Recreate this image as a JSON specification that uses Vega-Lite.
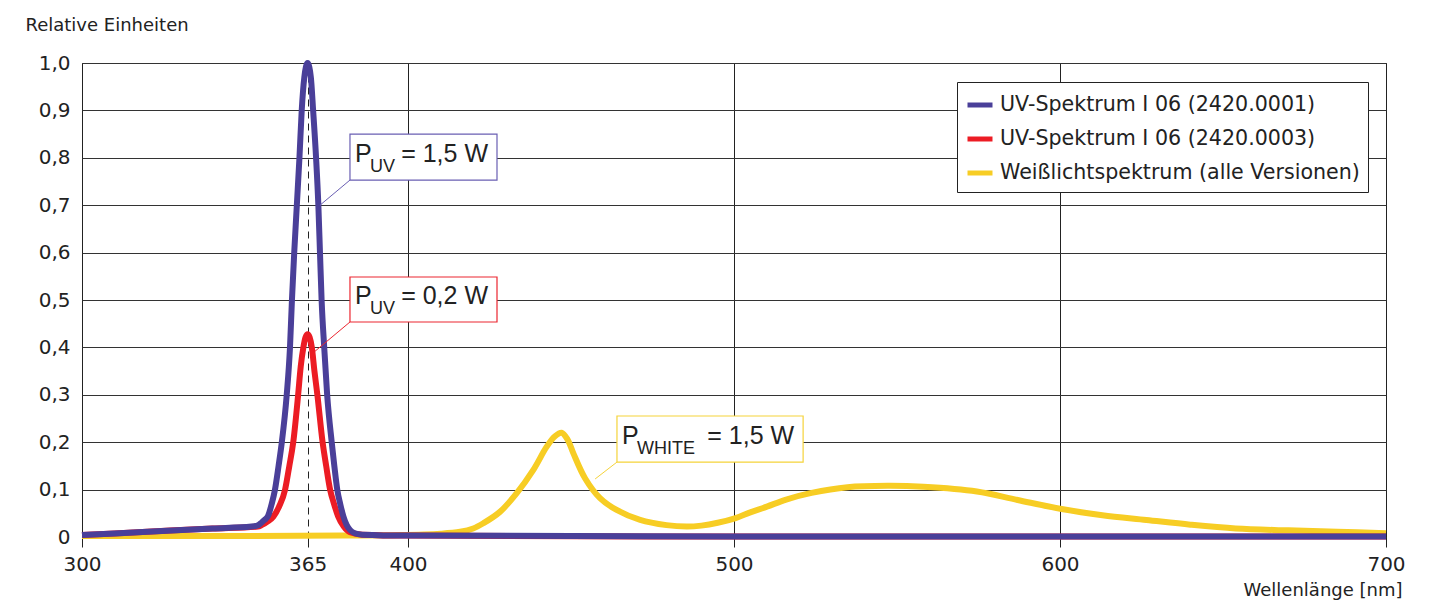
{
  "$schema": "https://vega.github.io/schema/vega-lite/v6.json",
  "width": 1304,
  "height": 474,
  "autosize": {"type": "none"},
  "padding": {"left": 82, "top": 63, "right": 46, "bottom": 73},
  "background": "white",
  "config": {
    "font": "DejaVu Sans",
    "view": {"stroke": "#222", "strokeWidth": 1}
  },
  "datasets": {
    "spectra": [
      {"series": "UV-Spektrum I 06 (2420.0001)", "nm": 300, "v": 0.004},
      {"series": "UV-Spektrum I 06 (2420.0001)", "nm": 320, "v": 0.011},
      {"series": "UV-Spektrum I 06 (2420.0001)", "nm": 340, "v": 0.018},
      {"series": "UV-Spektrum I 06 (2420.0001)", "nm": 352, "v": 0.022},
      {"series": "UV-Spektrum I 06 (2420.0001)", "nm": 354, "v": 0.025},
      {"series": "UV-Spektrum I 06 (2420.0001)", "nm": 355, "v": 0.03},
      {"series": "UV-Spektrum I 06 (2420.0001)", "nm": 356, "v": 0.036},
      {"series": "UV-Spektrum I 06 (2420.0001)", "nm": 357.1, "v": 0.045},
      {"series": "UV-Spektrum I 06 (2420.0001)", "nm": 358.2, "v": 0.07},
      {"series": "UV-Spektrum I 06 (2420.0001)", "nm": 359.2, "v": 0.1},
      {"series": "UV-Spektrum I 06 (2420.0001)", "nm": 360.3, "v": 0.15},
      {"series": "UV-Spektrum I 06 (2420.0001)", "nm": 361.3, "v": 0.2},
      {"series": "UV-Spektrum I 06 (2420.0001)", "nm": 362.8, "v": 0.3},
      {"series": "UV-Spektrum I 06 (2420.0001)", "nm": 363.8, "v": 0.4},
      {"series": "UV-Spektrum I 06 (2420.0001)", "nm": 364.4, "v": 0.5},
      {"series": "UV-Spektrum I 06 (2420.0001)", "nm": 365.1, "v": 0.6},
      {"series": "UV-Spektrum I 06 (2420.0001)", "nm": 365.9, "v": 0.7},
      {"series": "UV-Spektrum I 06 (2420.0001)", "nm": 366.7, "v": 0.8},
      {"series": "UV-Spektrum I 06 (2420.0001)", "nm": 367.4, "v": 0.9},
      {"series": "UV-Spektrum I 06 (2420.0001)", "nm": 368.2, "v": 0.97},
      {"series": "UV-Spektrum I 06 (2420.0001)", "nm": 369.2, "v": 1.0},
      {"series": "UV-Spektrum I 06 (2420.0001)", "nm": 370.2, "v": 0.97},
      {"series": "UV-Spektrum I 06 (2420.0001)", "nm": 370.9, "v": 0.9},
      {"series": "UV-Spektrum I 06 (2420.0001)", "nm": 371.8, "v": 0.8},
      {"series": "UV-Spektrum I 06 (2420.0001)", "nm": 372.5, "v": 0.7},
      {"series": "UV-Spektrum I 06 (2420.0001)", "nm": 373.0, "v": 0.6},
      {"series": "UV-Spektrum I 06 (2420.0001)", "nm": 373.5, "v": 0.5},
      {"series": "UV-Spektrum I 06 (2420.0001)", "nm": 374.3, "v": 0.4},
      {"series": "UV-Spektrum I 06 (2420.0001)", "nm": 375.2, "v": 0.3},
      {"series": "UV-Spektrum I 06 (2420.0001)", "nm": 376.6, "v": 0.2},
      {"series": "UV-Spektrum I 06 (2420.0001)", "nm": 377.4, "v": 0.15},
      {"series": "UV-Spektrum I 06 (2420.0001)", "nm": 378.3, "v": 0.1},
      {"series": "UV-Spektrum I 06 (2420.0001)", "nm": 379.2, "v": 0.07},
      {"series": "UV-Spektrum I 06 (2420.0001)", "nm": 380.2, "v": 0.043},
      {"series": "UV-Spektrum I 06 (2420.0001)", "nm": 381.2, "v": 0.025},
      {"series": "UV-Spektrum I 06 (2420.0001)", "nm": 382.2, "v": 0.015},
      {"series": "UV-Spektrum I 06 (2420.0001)", "nm": 383.7, "v": 0.008},
      {"series": "UV-Spektrum I 06 (2420.0001)", "nm": 386, "v": 0.005},
      {"series": "UV-Spektrum I 06 (2420.0001)", "nm": 400, "v": 0.003},
      {"series": "UV-Spektrum I 06 (2420.0001)", "nm": 450, "v": 0.002},
      {"series": "UV-Spektrum I 06 (2420.0001)", "nm": 500, "v": 0.001},
      {"series": "UV-Spektrum I 06 (2420.0001)", "nm": 600, "v": 0.001},
      {"series": "UV-Spektrum I 06 (2420.0001)", "nm": 700, "v": 0.001},

      {"series": "UV-Spektrum I 06 (2420.0003)", "nm": 300, "v": 0.004},
      {"series": "UV-Spektrum I 06 (2420.0003)", "nm": 320, "v": 0.011},
      {"series": "UV-Spektrum I 06 (2420.0003)", "nm": 340, "v": 0.018},
      {"series": "UV-Spektrum I 06 (2420.0003)", "nm": 354, "v": 0.022},
      {"series": "UV-Spektrum I 06 (2420.0003)", "nm": 355.1, "v": 0.025},
      {"series": "UV-Spektrum I 06 (2420.0003)", "nm": 357, "v": 0.033},
      {"series": "UV-Spektrum I 06 (2420.0003)", "nm": 358.7, "v": 0.043},
      {"series": "UV-Spektrum I 06 (2420.0003)", "nm": 360.5, "v": 0.065},
      {"series": "UV-Spektrum I 06 (2420.0003)", "nm": 362.3, "v": 0.1},
      {"series": "UV-Spektrum I 06 (2420.0003)", "nm": 363.6, "v": 0.15},
      {"series": "UV-Spektrum I 06 (2420.0003)", "nm": 364.8, "v": 0.2},
      {"series": "UV-Spektrum I 06 (2420.0003)", "nm": 366.3, "v": 0.3},
      {"series": "UV-Spektrum I 06 (2420.0003)", "nm": 367.1, "v": 0.36},
      {"series": "UV-Spektrum I 06 (2420.0003)", "nm": 367.9, "v": 0.4},
      {"series": "UV-Spektrum I 06 (2420.0003)", "nm": 368.6, "v": 0.422},
      {"series": "UV-Spektrum I 06 (2420.0003)", "nm": 369.2, "v": 0.428},
      {"series": "UV-Spektrum I 06 (2420.0003)", "nm": 369.8, "v": 0.422},
      {"series": "UV-Spektrum I 06 (2420.0003)", "nm": 370.5, "v": 0.4},
      {"series": "UV-Spektrum I 06 (2420.0003)", "nm": 371.3, "v": 0.35},
      {"series": "UV-Spektrum I 06 (2420.0003)", "nm": 372.2, "v": 0.3},
      {"series": "UV-Spektrum I 06 (2420.0003)", "nm": 373.8, "v": 0.2},
      {"series": "UV-Spektrum I 06 (2420.0003)", "nm": 374.9, "v": 0.15},
      {"series": "UV-Spektrum I 06 (2420.0003)", "nm": 376.1, "v": 0.1},
      {"series": "UV-Spektrum I 06 (2420.0003)", "nm": 377.3, "v": 0.07},
      {"series": "UV-Spektrum I 06 (2420.0003)", "nm": 378.6, "v": 0.043},
      {"series": "UV-Spektrum I 06 (2420.0003)", "nm": 380.3, "v": 0.022},
      {"series": "UV-Spektrum I 06 (2420.0003)", "nm": 382.2, "v": 0.01},
      {"series": "UV-Spektrum I 06 (2420.0003)", "nm": 386, "v": 0.005},
      {"series": "UV-Spektrum I 06 (2420.0003)", "nm": 400, "v": 0.003},
      {"series": "UV-Spektrum I 06 (2420.0003)", "nm": 500, "v": 0.001},
      {"series": "UV-Spektrum I 06 (2420.0003)", "nm": 700, "v": 0.001},

      {"series": "Weißlichtspektrum (alle Versionen)", "nm": 300, "v": 0.002},
      {"series": "Weißlichtspektrum (alle Versionen)", "nm": 350, "v": 0.002},
      {"series": "Weißlichtspektrum (alle Versionen)", "nm": 380, "v": 0.003},
      {"series": "Weißlichtspektrum (alle Versionen)", "nm": 397.5, "v": 0.004},
      {"series": "Weißlichtspektrum (alle Versionen)", "nm": 410, "v": 0.007},
      {"series": "Weißlichtspektrum (alle Versionen)", "nm": 416, "v": 0.011},
      {"series": "Weißlichtspektrum (alle Versionen)", "nm": 420, "v": 0.018},
      {"series": "Weißlichtspektrum (alle Versionen)", "nm": 423.1, "v": 0.029},
      {"series": "Weißlichtspektrum (alle Versionen)", "nm": 428.2, "v": 0.053},
      {"series": "Weißlichtspektrum (alle Versionen)", "nm": 433.3, "v": 0.092},
      {"series": "Weißlichtspektrum (alle Versionen)", "nm": 438.4, "v": 0.141},
      {"series": "Weißlichtspektrum (alle Versionen)", "nm": 442.5, "v": 0.19},
      {"series": "Weißlichtspektrum (alle Versionen)", "nm": 445, "v": 0.212},
      {"series": "Weißlichtspektrum (alle Versionen)", "nm": 447.1, "v": 0.22},
      {"series": "Weißlichtspektrum (alle Versionen)", "nm": 449, "v": 0.205},
      {"series": "Weißlichtspektrum (alle Versionen)", "nm": 450.7, "v": 0.177},
      {"series": "Weißlichtspektrum (alle Versionen)", "nm": 454.3, "v": 0.124},
      {"series": "Weißlichtspektrum (alle Versionen)", "nm": 458.9, "v": 0.082},
      {"series": "Weißlichtspektrum (alle Versionen)", "nm": 464, "v": 0.057},
      {"series": "Weißlichtspektrum (alle Versionen)", "nm": 471.2, "v": 0.036},
      {"series": "Weißlichtspektrum (alle Versionen)", "nm": 479.3, "v": 0.025},
      {"series": "Weißlichtspektrum (alle Versionen)", "nm": 485.5, "v": 0.022},
      {"series": "Weißlichtspektrum (alle Versionen)", "nm": 490, "v": 0.024},
      {"series": "Weißlichtspektrum (alle Versionen)", "nm": 495, "v": 0.03},
      {"series": "Weißlichtspektrum (alle Versionen)", "nm": 500.5, "v": 0.04},
      {"series": "Weißlichtspektrum (alle Versionen)", "nm": 505, "v": 0.052},
      {"series": "Weißlichtspektrum (alle Versionen)", "nm": 510.1, "v": 0.064},
      {"series": "Weißlichtspektrum (alle Versionen)", "nm": 516, "v": 0.079},
      {"series": "Weißlichtspektrum (alle Versionen)", "nm": 523.8, "v": 0.093},
      {"series": "Weißlichtspektrum (alle Versionen)", "nm": 534.8, "v": 0.105},
      {"series": "Weißlichtspektrum (alle Versionen)", "nm": 547.1, "v": 0.108},
      {"series": "Weißlichtspektrum (alle Versionen)", "nm": 558.1, "v": 0.106},
      {"series": "Weißlichtspektrum (alle Versionen)", "nm": 574.5, "v": 0.096},
      {"series": "Weißlichtspektrum (alle Versionen)", "nm": 587, "v": 0.078},
      {"series": "Weißlichtspektrum (alle Versionen)", "nm": 600.5, "v": 0.059},
      {"series": "Weißlichtspektrum (alle Versionen)", "nm": 613, "v": 0.046},
      {"series": "Weißlichtspektrum (alle Versionen)", "nm": 626.5, "v": 0.036},
      {"series": "Weißlichtspektrum (alle Versionen)", "nm": 640, "v": 0.026},
      {"series": "Weißlichtspektrum (alle Versionen)", "nm": 653.9, "v": 0.018},
      {"series": "Weißlichtspektrum (alle Versionen)", "nm": 670, "v": 0.014},
      {"series": "Weißlichtspektrum (alle Versionen)", "nm": 685, "v": 0.011},
      {"series": "Weißlichtspektrum (alle Versionen)", "nm": 700, "v": 0.008}
    ],
    "notes": [
      {"series": "UV-Spektrum I 06 (2420.0001)", "x1": 382.2, "x2": 427.3, "yb": 0.753, "yt": 0.85, "cx": 373.0, "cy": 0.7, "sub": "UV", "rest": "= 1,5 W"},
      {"series": "UV-Spektrum I 06 (2420.0003)", "x1": 382.2, "x2": 427.3, "yb": 0.4536, "yt": 0.5485, "cx": 371.5, "cy": 0.392, "sub": "UV", "rest": "= 0,2 W"},
      {"series": "Weißlichtspektrum (alle Versionen)", "x1": 464.1, "x2": 521.2, "yb": 0.158, "yt": 0.2553, "cx": 457.4, "cy": 0.1224, "sub": "WHITE", "rest": "= 1,5 W"}
    ]
  },
  "layer": [
    {
      "data": {"name": "spectra"},
      "transform": [{"filter": "datum.series === 'Weißlichtspektrum (alle Versionen)'"}],
      "mark": {"type": "line", "strokeWidth": 6, "interpolate": "catmull-rom"},
      "encoding": {
        "x": {
          "field": "nm", "type": "quantitative",
          "scale": {"domain": [300, 700], "nice": false, "zero": false},
          "axis": {
            "values": [300, 369.2, 400, 500, 600, 700],
            "labelExpr": "datum.value == 369.2 ? '365' : format(datum.value, 'd')",
            "labelFlush": false,
            "labelOverlap": false,
            "labelFontSize": 20,
            "labelColor": "#222",
            "labelPadding": 7,
            "grid": true,
            "gridColor": "#222",
            "gridWidth": 1,
            "gridDash": {"condition": {"test": "datum.value == 369.2", "value": [7, 5]}, "value": []},
            "domain": true,
            "domainColor": "#222",
            "ticks": true,
            "tickColor": "#222",
            "tickSize": 10,
            "title": "Wellenlänge [nm]",
            "titleFontSize": 18,
            "titleFontWeight": "normal",
            "titleColor": "#222",
            "titleX": 1320,
            "titleY": 58,
            "titleAlign": "right",
            "titleBaseline": "alphabetic"
          }
        },
        "y": {
          "field": "v", "type": "quantitative",
          "scale": {"domain": [0, 1], "nice": false},
          "axis": {
            "values": [0, 0.1, 0.2, 0.3, 0.4, 0.5, 0.6, 0.7, 0.8, 0.9, 1.0],
            "labelExpr": "datum.value == 0 ? '0' : replace(format(datum.value, '.1f'), '.', ',')",
            "labelFontSize": 20,
            "labelColor": "#222",
            "labelPadding": 12,
            "grid": true,
            "gridColor": "#333",
            "gridWidth": 1,
            "domain": false,
            "ticks": false,
            "title": "Relative Einheiten",
            "titleFontSize": 18,
            "titleFontWeight": "normal",
            "titleColor": "#222",
            "titleAngle": 0,
            "titleX": -57,
            "titleY": -33,
            "titleAlign": "left",
            "titleBaseline": "alphabetic"
          }
        },
        "color": {
          "field": "series", "type": "nominal",
          "scale": {
            "domain": ["UV-Spektrum I 06 (2420.0001)", "UV-Spektrum I 06 (2420.0003)", "Weißlichtspektrum (alle Versionen)"],
            "range": ["#4a3f99", "#ec1c24", "#f7cd24"]
          },
          "legend": {
            "orient": "none",
            "legendX": 875,
            "legendY": 19,
            "title": null,
            "fillColor": "white",
            "strokeColor": "#222",
            "padding": 8,
            "rowPadding": 8,
            "symbolType": "stroke",
            "symbolStrokeWidth": 5,
            "symbolSize": 625,
            "labelFontSize": 20.6,
            "labelColor": "#222",
            "labelOffset": 5,
            "labelLimit": 500
          }
        }
      }
    },
    {
      "data": {"name": "spectra"},
      "transform": [{"filter": "datum.series === 'UV-Spektrum I 06 (2420.0003)'"}],
      "mark": {"type": "line", "strokeWidth": 6, "interpolate": "monotone"},
      "encoding": {
        "x": {"field": "nm", "type": "quantitative"},
        "y": {"field": "v", "type": "quantitative"},
        "color": {"field": "series", "type": "nominal"}
      }
    },
    {
      "data": {"name": "spectra"},
      "transform": [{"filter": "datum.series === 'UV-Spektrum I 06 (2420.0001)'"}],
      "mark": {"type": "line", "strokeWidth": 6, "interpolate": "monotone"},
      "encoding": {
        "x": {"field": "nm", "type": "quantitative"},
        "y": {"field": "v", "type": "quantitative"},
        "color": {"field": "series", "type": "nominal"}
      }
    },
    {
      "data": {"name": "notes"},
      "mark": {"type": "rule", "strokeWidth": 1},
      "encoding": {
        "x": {"field": "x1", "type": "quantitative"},
        "y": {"field": "yb", "type": "quantitative"},
        "x2": {"field": "cx"},
        "y2": {"field": "cy"},
        "stroke": {
          "field": "series", "type": "nominal",
          "scale": {
            "domain": ["UV-Spektrum I 06 (2420.0001)", "UV-Spektrum I 06 (2420.0003)", "Weißlichtspektrum (alle Versionen)"],
            "range": ["#6a5fb3", "#ec2630", "#f5d33a"]
          },
          "legend": null
        }
      }
    },
    {
      "data": {"name": "notes"},
      "mark": {"type": "rect", "fill": "white", "strokeWidth": 1.2},
      "encoding": {
        "x": {"field": "x1", "type": "quantitative"},
        "x2": {"field": "x2"},
        "y": {"field": "yb", "type": "quantitative"},
        "y2": {"field": "yt"},
        "stroke": {"field": "series", "type": "nominal", "legend": null}
      }
    },
    {
      "data": {"name": "notes"},
      "mark": {"type": "text", "font": "Liberation Sans", "fontSize": 25, "align": "left", "baseline": "alphabetic", "dx": 5, "dy": -18, "color": "#222"},
      "encoding": {
        "x": {"field": "x1", "type": "quantitative"},
        "y": {"field": "yb", "type": "quantitative"},
        "text": {"value": "P"}
      }
    },
    {
      "data": {"name": "notes"},
      "mark": {"type": "text", "font": "Liberation Sans", "fontSize": 18, "align": "left", "baseline": "alphabetic", "dx": 20, "dy": -8, "color": "#222"},
      "encoding": {
        "x": {"field": "x1", "type": "quantitative"},
        "y": {"field": "yb", "type": "quantitative"},
        "text": {"field": "sub"}
      }
    },
    {
      "data": {"name": "notes"},
      "mark": {"type": "text", "font": "Liberation Sans", "fontSize": 25, "align": "right", "baseline": "alphabetic", "dx": -9, "dy": -18, "color": "#222"},
      "encoding": {
        "x": {"field": "x2", "type": "quantitative"},
        "y": {"field": "yb", "type": "quantitative"},
        "text": {"field": "rest"}
      }
    }
  ]
}
